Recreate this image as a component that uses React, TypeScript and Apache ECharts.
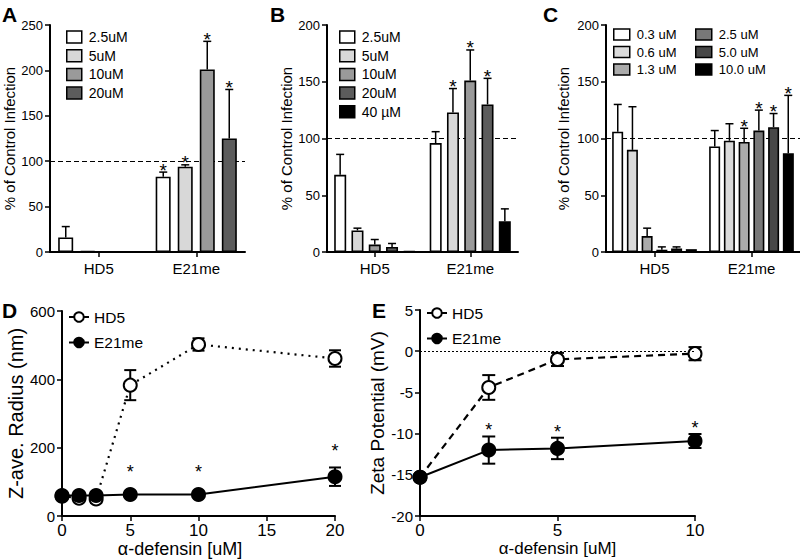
import React, { useEffect, useRef } from "react";
import * as echarts from "echarts";

const FONT = "Liberation Sans, Arial, Helvetica, sans-serif";

const barCategories = ["HD5", "E21me"];

// Panel A
const aNames = ["2.5uM", "5uM", "10uM", "20uM"];
const aValues = [[16, 83], [1, 94], [0.6, 201], [0.4, 125]];
const aErrors = [[12, 5], [0, 2], [0, 31], [0, 54]];
const aStars = [[0, 1], [0, 1], [0, 1], [0, 1]];
const aColors = ["#ffffff", "#d8d8d8", "#9a9a9a", "#5c5c5c"];

// Panel B
const bNames = ["2.5uM", "5uM", "10uM", "20uM", "40 µM"];
const bValues = [[68, 96], [19, 123], [6.5, 151], [4.5, 130], [0.6, 27]];
const bErrors = [[18, 10], [2, 21], [4.5, 27], [3, 23], [0, 11]];
const bStars = [[0, 0], [0, 1], [0, 1], [0, 1], [0, 0]];
const bColors = ["#ffffff", "#d8d8d8", "#9a9a9a", "#5c5c5c", "#000000"];

// Panel C
const cNames = ["0.3 uM", "0.6 uM", "1.3 uM", "2.5 uM", "5.0 uM", "10.0 uM"];
const cValues = [[106, 93], [90, 98], [14, 97], [2, 107], [3, 110], [2.5, 87]];
const cErrors = [[24, 14], [38, 15], [7, 12], [2.5, 18], [1.5, 12], [0, 51]];
const cStars = [[0, 0], [0, 0], [0, 1], [0, 1], [0, 1], [0, 1]];
const cColors = ["#ffffff", "#dadada", "#ababab", "#787878", "#474747", "#000000"];

// Panel D
const dX = [0, 1.25, 2.5, 5, 10, 20];
const dHd5 = [58, 52, 50, 383, 502, 461];
const dHd5Err = [2, 3, 12, 44, 18, 24];
const dE21 = [60, 60, 60, 63, 63, 115];
const dE21Err = [3, 3, 3, 3, 3, 27];
const dE21Stars = [0, 0, 0, 1, 1, 1];

// Panel E
const eX = [0, 2.5, 5, 10];
const eHd5 = [-15.3, -4.4, -1.0, -0.3];
const eHd5Err = [0, 1.5, 0.8, 0.8];
const eE21 = [-15.3, -12.0, -11.8, -10.9];
const eE21Err = [0, 1.65, 1.3, 0.85];
const eE21Stars = [0, 1, 1, 1];

const black = "#000";

function catX(gridIndex: number) {
  return {
    type: "category",
    gridIndex,
    data: barCategories,
    axisLine: { show: true, onZero: false, lineStyle: { color: black, width: 2 } },
    axisTick: { show: true, alignWithLabel: true, length: 5, lineStyle: { color: black, width: 1.5 } },
    axisLabel: { color: black, fontSize: 15, fontFamily: FONT, margin: 9 },
    splitLine: { show: false },
  };
}

function valAxis(
  gridIndex: number,
  min: number,
  max: number,
  interval: number,
  name: string,
  nameGap: number,
  nameSize: number,
  tickSize: number,
  isY: boolean,
  namePadding?: number[]
) {
  return {
    type: "value",
    gridIndex,
    min,
    max,
    interval,
    name,
    nameLocation: "middle",
    nameGap,
    nameRotate: isY ? 90 : 0,
    nameTextStyle: { fontSize: nameSize, fontFamily: FONT, color: black, padding: namePadding },
    axisLine: { show: true, onZero: false, lineStyle: { color: black, width: 2 } },
    axisTick: { show: true, length: 5, lineStyle: { color: black, width: 1.5 } },
    axisLabel: { color: black, fontSize: tickSize, fontFamily: FONT, margin: isY ? 7 : 6 },
    splitLine: { show: false },
  };
}

function barSeries(
  names: string[],
  values: number[][],
  colors: string[],
  idx: number,
  barWidth: number,
  barGap: string
) {
  return names.map((name, i) => ({
    type: "bar",
    name,
    xAxisIndex: idx,
    yAxisIndex: idx,
    data: values[i],
    barWidth,
    barGap,
    silent: true,
    z: 2,
    itemStyle: { color: colors[i], borderColor: black, borderWidth: 1.6 },
    markLine:
      i === 0
        ? {
            silent: true,
            z: 0,
            symbol: ["none", "none"],
            label: { show: false },
            lineStyle: { color: black, width: 1.2, type: [5, 3] },
            data: [{ yAxis: 100 }],
          }
        : undefined,
  }));
}

function barErrorSeries(
  values: number[][],
  errors: number[][],
  stars: number[][],
  idx: number,
  spacing: number
) {
  const n = values.length;
  const data: number[][] = [];
  values.forEach((row, s) =>
    row.forEach((v, c) => data.push([c, v, errors[s][c], s, stars[s][c]]))
  );
  return {
    type: "custom",
    name: "err" + idx,
    xAxisIndex: idx,
    yAxisIndex: idx,
    silent: true,
    z: 5,
    encode: { x: 0, y: 1 },
    data,
    renderItem: (_p: any, api: any) => {
      const c = api.value(0);
      const v = api.value(1);
      const e = api.value(2);
      const s = api.value(3);
      const st = api.value(4);
      const base = api.coord([c, v]);
      const top = api.coord([c, v + e]);
      const x = base[0] + (s - (n - 1) / 2) * spacing;
      const children: any[] = [];
      if (e > 0) {
        children.push({
          type: "line",
          shape: { x1: x, y1: base[1], x2: x, y2: top[1] },
          style: { stroke: black, lineWidth: 1.5 },
        });
        children.push({
          type: "line",
          shape: { x1: x - 4, y1: top[1], x2: x + 4, y2: top[1] },
          style: { stroke: black, lineWidth: 1.5 },
        });
      }
      if (st) {
        children.push({
          type: "text",
          x,
          y: top[1] - 2,
          style: {
            text: "*",
            fontSize: 19,
            fontFamily: FONT,
            fill: black,
            align: "center",
            verticalAlign: "middle",
          },
        });
      }
      return { type: "group", children };
    },
  };
}

function lineErrorSeries(
  xs: number[],
  ys: number[],
  errs: number[],
  stars: number[],
  idx: number,
  capHalf: number,
  starGap: number
) {
  const data = xs.map((x, i) => [x, ys[i], errs[i], stars[i]]);
  return {
    type: "custom",
    name: "lerr" + idx,
    xAxisIndex: idx,
    yAxisIndex: idx,
    silent: true,
    z: 2,
    encode: { x: 0, y: 1 },
    data,
    renderItem: (_p: any, api: any) => {
      const xv = api.value(0);
      const yv = api.value(1);
      const e = api.value(2);
      const st = api.value(3);
      const t = api.coord([xv, yv + e]);
      const b = api.coord([xv, yv - e]);
      const c = api.coord([xv, yv]);
      const children: any[] = [];
      if (e > 0) {
        children.push({
          type: "line",
          shape: { x1: t[0], y1: t[1], x2: b[0], y2: b[1] },
          style: { stroke: black, lineWidth: 2 },
        });
        children.push({
          type: "line",
          shape: { x1: t[0] - capHalf, y1: t[1], x2: t[0] + capHalf, y2: t[1] },
          style: { stroke: black, lineWidth: 2 },
        });
        children.push({
          type: "line",
          shape: { x1: b[0] - capHalf, y1: b[1], x2: b[0] + capHalf, y2: b[1] },
          style: { stroke: black, lineWidth: 2 },
        });
      }
      if (st) {
        const top = Math.min(t[1], c[1] - 6);
        children.push({
          type: "text",
          x: c[0],
          y: top - starGap + 4,
          style: {
            text: "*",
            fontSize: 18,
            fontFamily: FONT,
            fill: black,
            align: "center",
            verticalAlign: "middle",
          },
        });
      }
      return { type: "group", children };
    },
  };
}

function lineSeries(
  name: string,
  xs: number[],
  ys: number[],
  idx: number,
  filled: boolean,
  type: any
) {
  return {
    type: "line",
    name,
    xAxisIndex: idx,
    yAxisIndex: idx,
    data: xs.map((x, i) => [x, ys[i]]),
    symbol: "circle",
    symbolSize: 13,
    silent: true,
    z: filled ? 4 : 3,
    itemStyle: { color: filled ? black : "#fff", borderColor: black, borderWidth: 2 },
    lineStyle: { color: black, width: filled ? 2 : 2.2, type },
  };
}

function barLegend(data: string[], left: number, top: number, w: number, h: number, gap: number, fs: number) {
  return {
    data,
    left,
    top,
    orient: "vertical",
    icon: "rect",
    itemWidth: w,
    itemHeight: h,
    itemGap: gap,
    padding: 0,
    selectedMode: false,
    itemStyle: { borderColor: black, borderWidth: 1.5 },
    textStyle: { fontSize: fs, fontFamily: FONT, color: black, padding: [0, 0, 0, 2] },
  };
}

function lineLegend(left: number, top: number) {
  return {
    data: ["HD5", "E21me"],
    left,
    top,
    orient: "vertical",
    itemWidth: 20,
    itemHeight: 12,
    itemGap: 9.5,
    padding: 0,
    selectedMode: false,
    lineStyle: { type: "solid", width: 2, color: black },
    textStyle: { fontSize: 15.5, fontFamily: FONT, color: black },
  };
}

function letter(t: string, left: number, top: number) {
  return {
    type: "text",
    left,
    top,
    style: { text: t, fontSize: 21, fontWeight: "bold", fontFamily: FONT, fill: black },
  };
}

export default function App() {
  const ref = useRef<HTMLDivElement>(null);
  useEffect(() => {
    if (!ref.current) return;
    const chart = echarts.init(ref.current, undefined, { renderer: "svg" });
    const option: any = {
      animation: false,
      backgroundColor: "#fff",
      grid: [
        { left: 50, top: 25, width: 195, height: 227 },
        { left: 327, top: 25, width: 191, height: 227 },
        { left: 606, top: 25, width: 194, height: 227 },
        { left: 62, top: 311, width: 273, height: 205 },
        { left: 420, top: 310, width: 275, height: 206 },
      ],
      xAxis: [
        catX(0),
        catX(1),
        catX(2),
        valAxis(3, 0, 20, 5, "α-defensin [uM]", 22, 18, 17, false, [0, 37, 0, 0]),
        valAxis(4, 0, 10, 5, "α-defensin [uM]", 22, 17, 17, false),
      ],
      yAxis: [
        valAxis(0, 0, 250, 50, "% of Control Infection", 28, 15, 13, true),
        valAxis(1, 0, 200, 50, "% of Control Infection", 33, 15, 13, true),
        valAxis(2, 0, 200, 50, "% of Control Infection", 35, 15, 13, true),
        valAxis(3, 0, 600, 200, "Z-ave. Radius (nm)", 35, 20, 15, true),
        valAxis(4, -20, 5, 5, "Zeta Potential (mV)", 30, 19, 15, true),
      ],
      legend: [
        barLegend(aNames, 66, 30, 15, 12, 4.7, 14),
        barLegend(bNames, 339, 30, 15, 12, 4.7, 14),
        barLegend(cNames.slice(0, 3), 613, 28, 16, 11, 4.5, 13),
        barLegend(cNames.slice(3), 695, 28, 16, 11, 4.5, 13),
        lineLegend(68, 309),
        lineLegend(426, 305),
      ],
      graphic: [
        letter("A", 2, 4),
        letter("B", 270, 4),
        letter("C", 543, 4),
        letter("D", 2, 300),
        letter("E", 372, 300),
      ],
      series: [
        ...barSeries(aNames, aValues, aColors, 0, 15, "47%"),
        barErrorSeries(aValues, aErrors, aStars, 0, 22),
        ...barSeries(bNames, bValues, bColors, 1, 12, "44%"),
        barErrorSeries(bValues, bErrors, bStars, 1, 17.3),
        ...barSeries(cNames, cValues, cColors, 2, 11, "34%"),
        barErrorSeries(cValues, cErrors, cStars, 2, 14.7),
        lineErrorSeries(dX, dHd5, dHd5Err, dX.map(() => 0), 3, 6, 20),
        lineErrorSeries(dX, dE21, dE21Err, dE21Stars, 3, 6, 20),
        lineSeries("HD5", dX, dHd5, 3, false, [2, 5]),
        lineSeries("E21me", dX, dE21, 3, true, "solid"),
        {
          type: "line",
          name: "zero",
          xAxisIndex: 4,
          yAxisIndex: 4,
          data: [],
          silent: true,
          markLine: {
            silent: true,
            symbol: ["none", "none"],
            label: { show: false },
            lineStyle: { color: black, width: 1, type: [2, 2] },
            data: [{ yAxis: 0 }],
          },
        },
        lineErrorSeries(eX, eHd5, eHd5Err, eX.map(() => 0), 4, 6.5, 10),
        lineErrorSeries(eX, eE21, eE21Err, eE21Stars, 4, 6.5, 10),
        lineSeries("HD5", eX, eHd5, 4, false, [7, 5]),
        lineSeries("E21me", eX, eE21, 4, true, "solid"),
      ],
    };
    chart.setOption(option);
    return () => chart.dispose();
  }, []);
  return (
    <div
      ref={ref}
      style={{ position: "fixed", left: 0, top: 0, width: 800, height: 560, background: "#fff" }}
    />
  );
}
